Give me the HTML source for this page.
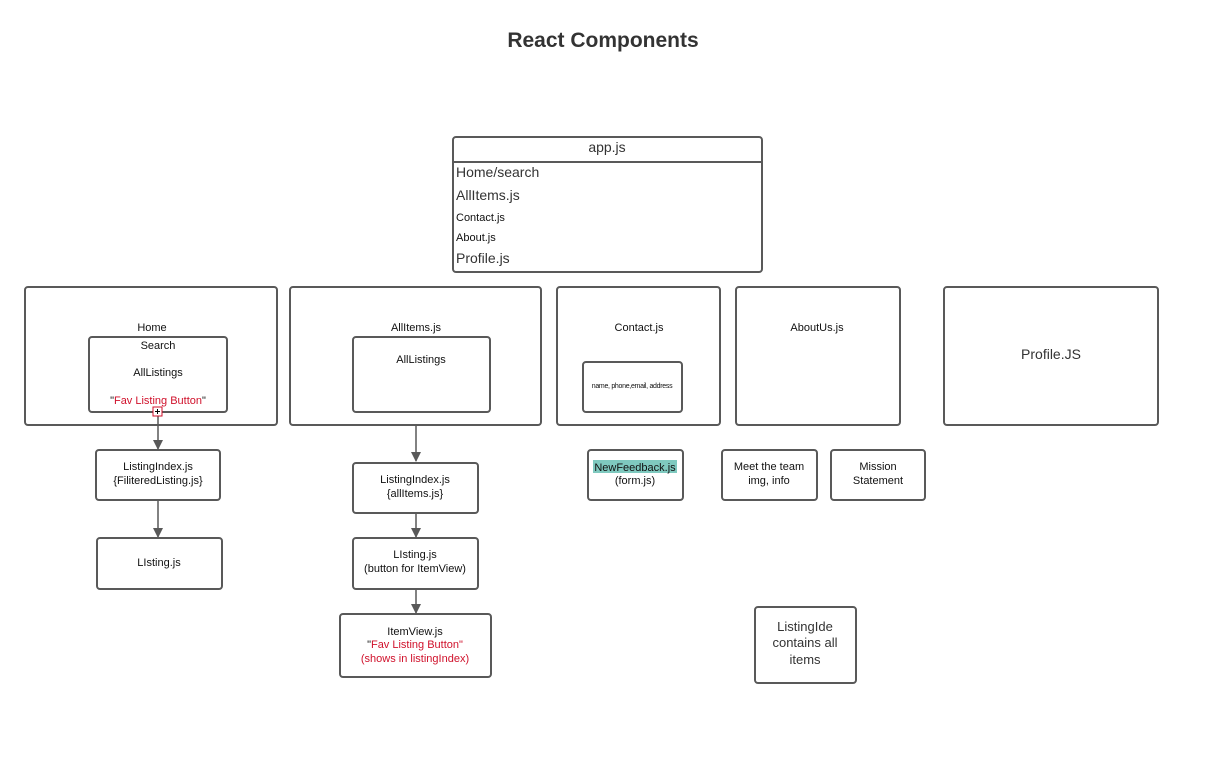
<!DOCTYPE html>
<html><head><meta charset="utf-8"><style>
html,body{margin:0;padding:0;background:#fff;}
svg{display:block;font-family:"Liberation Sans",sans-serif;}
text{fill:#111;}
.b{fill:#fff;stroke:#595959;stroke-width:2;}
.l{stroke:#595959;stroke-width:1.5;fill:none;}
.r{fill:#d0112b;}
</style></head><body>
<svg width="1222" height="766" viewBox="0 0 1222 766">
<defs><marker id="a" markerWidth="10" markerHeight="10" refX="9" refY="5" orient="auto" markerUnits="userSpaceOnUse"><path d="M0,0 L10,5 L0,10 z" fill="#595959"/></marker></defs>
<text x="603" y="47" text-anchor="middle" font-size="21" font-weight="bold" style="fill:#333">React Components</text>

<rect class="b" x="453" y="137" width="309" height="135" rx="3"/>
<line class="l" x1="453" y1="162" x2="762" y2="162" style="stroke-width:2"/>
<text x="607" y="152" text-anchor="middle" font-size="14" style="fill:#333">app.js</text>
<text x="456" y="177" font-size="14" style="fill:#333">Home/search</text>
<text x="456" y="200" font-size="14" style="fill:#333">AllItems.js</text>
<text x="456" y="221" font-size="11">Contact.js</text>
<text x="456" y="241" font-size="11">About.js</text>
<text x="456" y="263" font-size="14" style="fill:#333">Profile.js</text>

<rect class="b" x="25" y="287" width="252" height="138" rx="3"/>
<text x="152" y="331" text-anchor="middle" font-size="11">Home</text>
<rect class="b" x="89" y="337" width="138" height="75" rx="3"/>
<text x="158" y="349" text-anchor="middle" font-size="11">Search</text>
<text x="158" y="376" text-anchor="middle" font-size="11">AllListings</text>
<text x="158" y="404" text-anchor="middle" font-size="11"><tspan>"</tspan><tspan class="r">Fav Listing Button</tspan><tspan>"</tspan></text>
<line class="l" x1="158" y1="416" x2="158" y2="449" marker-end="url(#a)"/>
<rect x="153" y="407" width="9" height="9" fill="#fff" stroke="#d0112b" stroke-width="1"/>
<path d="M155,411.5 h5 M157.5,409 v5" stroke="#000" stroke-width="1"/>

<rect class="b" x="290" y="287" width="251" height="138" rx="3"/>
<text x="416" y="331" text-anchor="middle" font-size="11">AllItems.js</text>
<rect class="b" x="353" y="337" width="137" height="75" rx="3"/>
<text x="421" y="363" text-anchor="middle" font-size="11">AllListings</text>

<rect class="b" x="557" y="287" width="163" height="138" rx="3"/>
<text x="639" y="331" text-anchor="middle" font-size="11">Contact.js</text>
<rect class="b" x="583" y="362" width="99" height="50" rx="3"/>
<text x="632" y="388" text-anchor="middle" font-size="7" letter-spacing="-0.3">name, phone,email, address</text>

<rect class="b" x="736" y="287" width="164" height="138" rx="3"/>
<text x="817" y="331" text-anchor="middle" font-size="11">AboutUs.js</text>

<rect class="b" x="944" y="287" width="214" height="138" rx="3"/>
<text x="1051" y="359" text-anchor="middle" font-size="14" style="fill:#333">Profile.JS</text>

<line class="l" x1="416" y1="425" x2="416" y2="461" marker-end="url(#a)"/>
<line class="l" x1="158" y1="500" x2="158" y2="537" marker-end="url(#a)"/>
<line class="l" x1="416" y1="513" x2="416" y2="537" marker-end="url(#a)"/>
<line class="l" x1="416" y1="589" x2="416" y2="613" marker-end="url(#a)"/>

<rect class="b" x="96" y="450" width="124" height="50" rx="3"/>
<text x="158" y="470" text-anchor="middle" font-size="11">ListingIndex.js</text>
<text x="158" y="484" text-anchor="middle" font-size="11">{FiliteredListing.js}</text>

<rect class="b" x="97" y="538" width="125" height="51" rx="3"/>
<text x="159" y="566" text-anchor="middle" font-size="11">LIsting.js</text>

<rect class="b" x="353" y="463" width="125" height="50" rx="3"/>
<text x="415" y="483" text-anchor="middle" font-size="11">ListingIndex.js</text>
<text x="415" y="497" text-anchor="middle" font-size="11">{allItems.js}</text>

<rect class="b" x="353" y="538" width="125" height="51" rx="3"/>
<text x="415" y="558" text-anchor="middle" font-size="11">LIsting.js</text>
<text x="415" y="572" text-anchor="middle" font-size="11">(button for ItemView)</text>

<rect class="b" x="340" y="614" width="151" height="63" rx="3"/>
<text x="415" y="635" text-anchor="middle" font-size="11">ItemView.js</text>
<text x="415" y="648" text-anchor="middle" font-size="11"><tspan>"</tspan><tspan class="r">Fav Listing Button"</tspan></text>
<text x="415" y="662" text-anchor="middle" font-size="11" class="r">(shows in listingIndex)</text>

<rect class="b" x="588" y="450" width="95" height="50" rx="3"/>
<rect x="593" y="460" width="84" height="13" fill="#7fc9bf"/>
<text x="635" y="471" text-anchor="middle" font-size="11">NewFeedback.js</text>
<text x="635" y="484" text-anchor="middle" font-size="11">(form.js)</text>

<rect class="b" x="722" y="450" width="95" height="50" rx="3"/>
<text x="769" y="470" text-anchor="middle" font-size="11">Meet the team</text>
<text x="769" y="484" text-anchor="middle" font-size="11">img, info</text>

<rect class="b" x="831" y="450" width="94" height="50" rx="3"/>
<text x="878" y="470" text-anchor="middle" font-size="11">Mission</text>
<text x="878" y="484" text-anchor="middle" font-size="11">Statement</text>

<rect class="b" x="755" y="607" width="101" height="76" rx="3"/>
<text x="805" y="631" text-anchor="middle" font-size="13" style="fill:#333">ListingIde</text>
<text x="805" y="647" text-anchor="middle" font-size="13" style="fill:#333">contains all</text>
<text x="805" y="664" text-anchor="middle" font-size="13" style="fill:#333">items</text>
</svg>
</body></html>
